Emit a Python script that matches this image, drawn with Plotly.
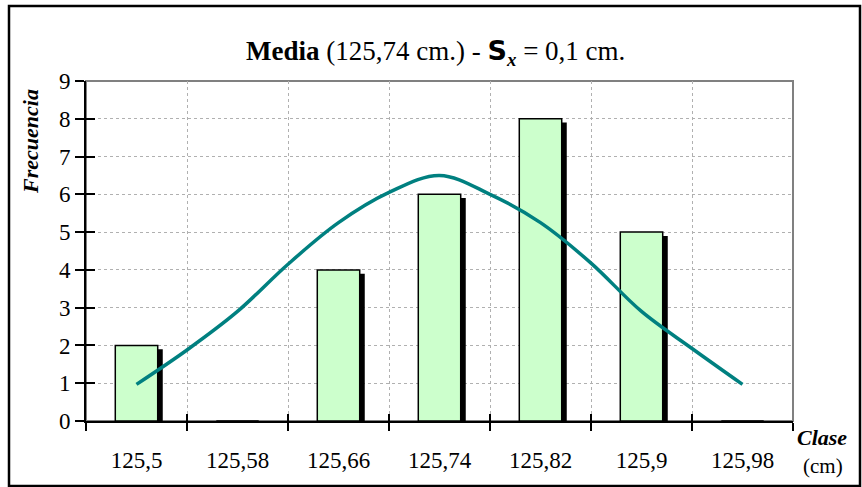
import plotly.graph_objects as go

# Data
clases = ["125,5", "125,58", "125,66", "125,74", "125,82", "125,9", "125,98"]
frecuencia = [2, 0, 4, 6, 8, 5, 0]

curva_x = [125.50, 125.54, 125.58, 125.62, 125.66, 125.70, 125.74,
           125.78, 125.82, 125.86, 125.90, 125.94, 125.98]
curva_y = [0.97, 1.88, 2.90, 4.15, 5.25, 6.05, 6.50,
           6.00, 5.25, 4.18, 2.90, 1.92, 0.97]
limites = [125.46, 125.54, 125.62, 125.70, 125.78, 125.86, 125.94, 126.02]

FONT = "Liberation Serif, Times New Roman, serif"
W, H = 862, 487
L, R, T, B = 86, 793, 81, 421
pw, ph = R - L, B - T


def px(x):
    return (x - L) / pw


def py(y):
    return (B - y) / ph


fig = go.Figure()

# shadow bars
fig.add_trace(go.Bar(
    x=clases, y=frecuencia, base=-0.1, width=0.42, offset=-0.16,
    marker=dict(color="black", line=dict(width=0)),
    hoverinfo="skip", showlegend=False,
))
# main bars
fig.add_trace(go.Bar(
    x=clases, y=frecuencia, width=0.42, offset=-0.21,
    marker=dict(color="#CCFFCC", line=dict(color="black", width=1.5)),
    showlegend=False,
))
# normal curve
fig.add_trace(go.Scatter(
    x=curva_x, y=curva_y, xaxis="x2", yaxis="y2", mode="lines",
    line=dict(color="#008080", width=3.5, shape="spline", smoothing=1.0),
    showlegend=False,
))

grid = dict(showgrid=True, gridcolor="#b0b0b0", griddash="dot", gridwidth=1)

fig.update_layout(
    width=W, height=H,
    margin=dict(l=L, r=W - R, t=T, b=H - B),
    paper_bgcolor="white", plot_bgcolor="white",
    barmode="overlay",
    font=dict(family=FONT, size=23, color="black"),
    xaxis=dict(
        type="category", categoryorder="array", categoryarray=clases,
        range=[-0.5, 6.5], tickson="boundaries", ticks="outside",
        ticklen=8, tickwidth=2, tickcolor="black",
        showline=True, linecolor="black", linewidth=2,
        ticklabelstandoff=17,
        zeroline=False, **grid,
    ),
    yaxis=dict(
        range=[0, 9], dtick=1, tick0=0, ticks="outside",
        ticklen=9, tickwidth=2, tickcolor="black",
        showline=True, linecolor="black", linewidth=2,
        ticklabelstandoff=0,
        zeroline=False, **grid,
    ),
    xaxis2=dict(
        overlaying="x", range=[limites[0], limites[-1]],
        tickmode="array", tickvals=limites, ticks="inside",
        ticklen=7, tickwidth=2, tickcolor="black",
        showticklabels=False, showgrid=False, showline=False,
        zeroline=False, side="bottom",
    ),
    yaxis2=dict(
        overlaying="y", range=[0, 9], dtick=1, tick0=0, ticks="inside",
        ticklen=9, tickwidth=2, tickcolor="black",
        showticklabels=False, showgrid=False, showline=False,
        zeroline=False, side="left",
    ),
    shapes=[
        dict(type="rect", xref="paper", yref="paper", x0=0, x1=1, y0=0, y1=1,
             line=dict(color="#808080", width=2), layer="below"),
        dict(type="rect", xref="paper", yref="paper",
             x0=px(9), x1=px(860), y0=py(486), y1=py(6),
             line=dict(color="black", width=2.5)),
    ],
    annotations=[
        dict(xref="paper", yref="paper", x=px(435), y=py(52),
             xanchor="center", yanchor="middle", showarrow=False,
             text=("<b>Media</b> (125,74 cm.) - "
                   "<span style='font-family:DejaVu Sans'><b>S</b></span>"
                   "<sub><b><i>x</i></b></sub> = 0,1 cm."),
             font=dict(family=FONT, size=27)),
        dict(xref="paper", yref="paper", x=px(30), y=py(142),
             xanchor="center", yanchor="middle", showarrow=False,
             textangle=-90, text="<b><i>Frecuencia</i></b>",
             font=dict(family=FONT, size=22)),
        dict(xref="paper", yref="paper", x=px(822), y=py(437),
             xanchor="center", yanchor="middle", showarrow=False,
             text="<b><i>Clase</i></b>", font=dict(family=FONT, size=22)),
        dict(xref="paper", yref="paper", x=px(823), y=py(466),
             xanchor="center", yanchor="middle", showarrow=False,
             text="(cm)", font=dict(family=FONT, size=21)),
    ],
)

fig.write_html("out.html", config={"displayModeBar": False},
               post_script="document.body.style.margin='0';document.body.style.overflow='hidden';")
